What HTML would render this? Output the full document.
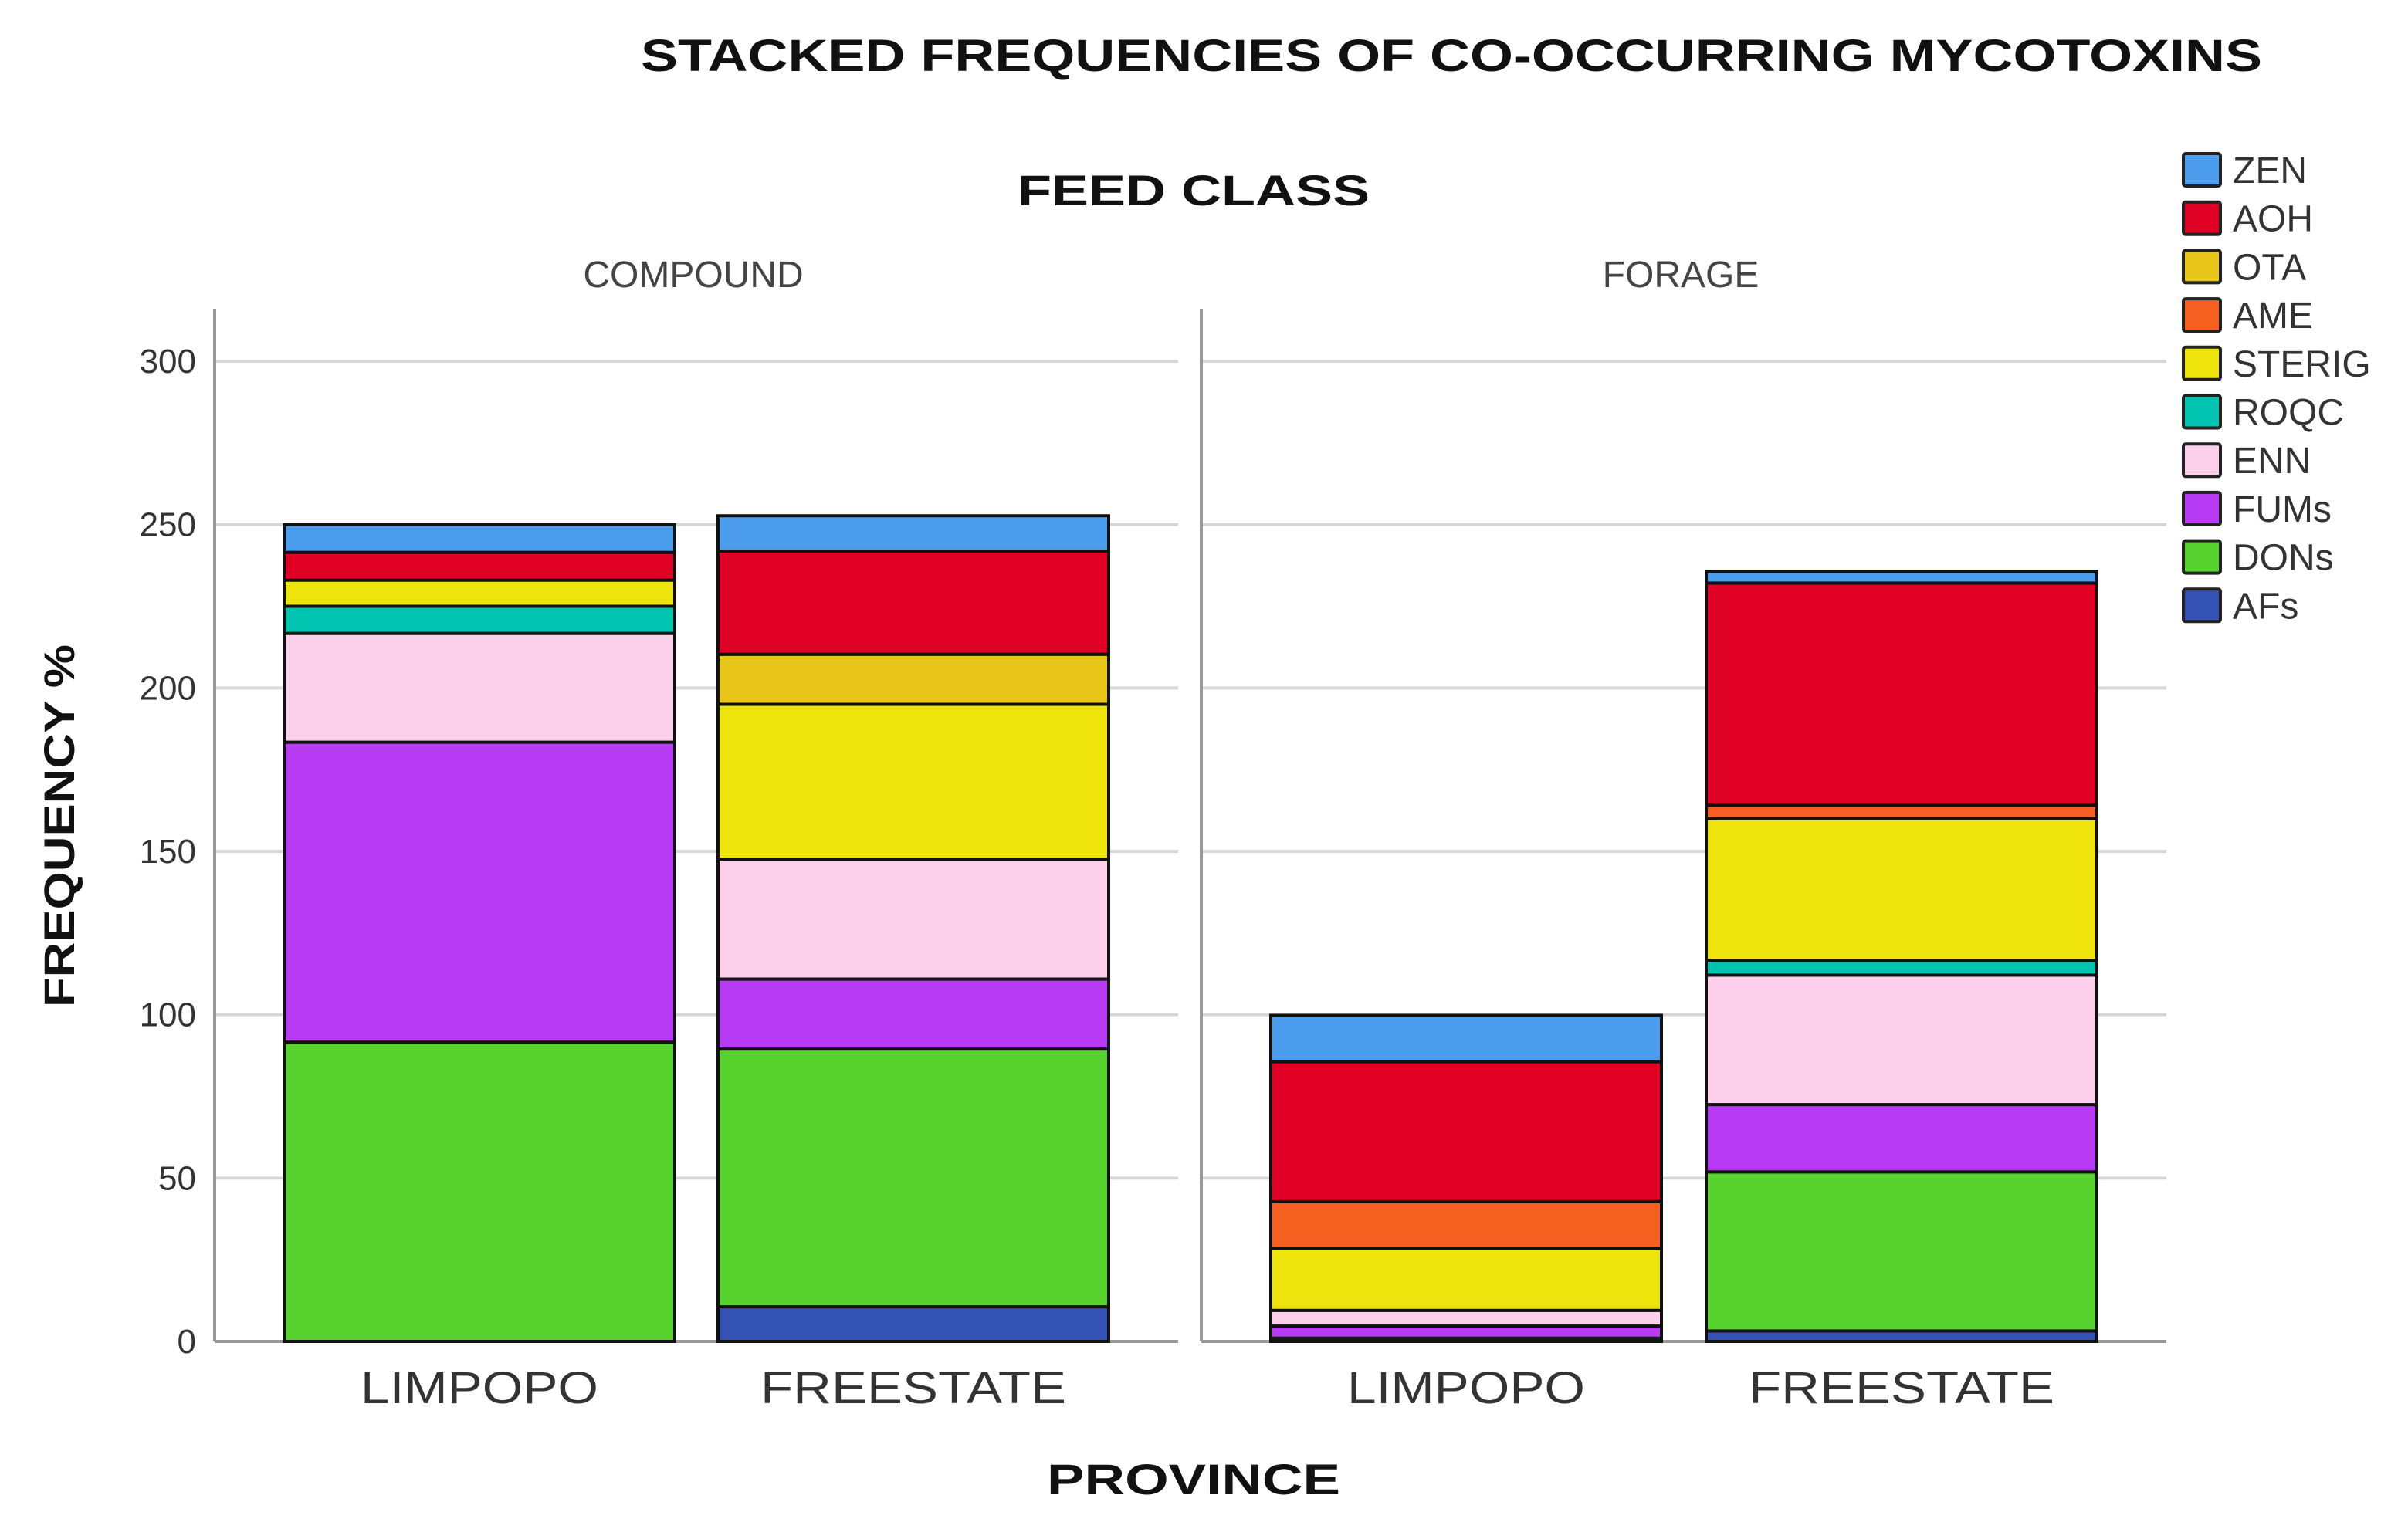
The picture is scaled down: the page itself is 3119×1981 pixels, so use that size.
<!DOCTYPE html>
<html><head><meta charset="utf-8"><style>
html,body{margin:0;padding:0;background:#fff;}
svg{display:block;font-family:"Liberation Sans",Arial,sans-serif;}
</style></head><body>
<svg id="chart" width="3119" height="1981" viewBox="0 0 3119 1981" xmlns="http://www.w3.org/2000/svg">
<rect width="3119" height="1981" fill="#fff"/>
<text x="1880" y="92" font-size="58" font-weight="bold" text-anchor="middle" textLength="2100" lengthAdjust="spacingAndGlyphs" fill="#111">STACKED FREQUENCIES OF CO-OCCURRING MYCOTOXINS</text>
<text x="1546" y="266" font-size="56" font-weight="bold" text-anchor="middle" textLength="456" lengthAdjust="spacingAndGlyphs" fill="#111">FEED CLASS</text>
<text x="1546" y="1936" font-size="56" font-weight="bold" text-anchor="middle" textLength="380" lengthAdjust="spacingAndGlyphs" fill="#111">PROVINCE</text>
<text transform="translate(96,1070) rotate(-90)" font-size="56" font-weight="bold" text-anchor="middle" textLength="470" lengthAdjust="spacingAndGlyphs" fill="#111">FREQUENCY %</text>
<g id="plot"></g>
<g id="legend"></g>
</svg>
<script>
const series = ["AFs","DONs","FUMs","ENN","ROQC","STERIG","AME","OTA","AOH","ZEN"];
const colors = ["#3452b4","#57d22e","#b73af5","#fcd0ea","#00c4b0","#ede40c","#f55f20","#e8c619","#e00024","#4c9ded"];
const panels = ["COMPOUND","FORAGE"];
const provinces = ["LIMPOPO","FREESTATE"];
const compoundLimpopo = [0,91.6,91.8,33.3,8.3,8,0,0,8.5,8.5];
const compoundFreestate = [10.6,78.9,21.4,36.7,0,47.4,0,15.3,31.6,10.8];
const forageLimpopo = [1,0,3.7,4.8,0,18.9,14.4,0,42.8,14.2];
const forageFreestate = [3.2,48.7,20.6,39.6,4.5,43.4,4.1,0,68,3.6];
const yTicks = [0,50,100,150,200,250,300];
const legendOrder = ["ZEN","AOH","OTA","AME","STERIG","ROQC","ENN","FUMs","DONs","AFs"];

const NS="http://www.w3.org/2000/svg";
const plot=document.getElementById('plot');
const Y0=1738, PXU=(1738-468)/300;
function y(v){return Y0-v*PXU;}
const panelX=[{axis:278,right:1526,bars:[[368,874],[930,1436]]},{axis:1556,right:2806,bars:[[1646,2152],[2210,2716]]}];
const data=[[compoundLimpopo,compoundFreestate],[forageLimpopo,forageFreestate]];
function mk(tag,attrs){const e=document.createElementNS(NS,tag);for(const k in attrs)e.setAttribute(k,attrs[k]);return e;}

panels.forEach((p,pi)=>{
  const P=panelX[pi];
  const g=mk('g',{});
  
  
  plot.appendChild(g);
  yTicks.forEach(t=>{
    if(t===0)return;
    const l=mk('line',{x1:P.axis,x2:P.right,y1:y(t),y2:y(t),stroke:'#d6d6d6','stroke-width':4});
    
    
    g.appendChild(l);
  });
  const ax=mk('line',{x1:P.axis,x2:P.axis,y1:400,y2:Y0,stroke:'#999','stroke-width':4});
  
  
  g.appendChild(ax);
  const bx=mk('line',{x1:P.axis,x2:P.right,y1:Y0,y2:Y0,stroke:'#999','stroke-width':4});
  
  
  g.appendChild(bx);
  const pt=mk('text',{x:(P.axis+P.right)/2-4,y:372,'font-size':48,'text-anchor':'middle',fill:'#444'});
  pt.textContent=p;
  
  
  g.appendChild(pt);
  provinces.forEach((pr,bi)=>{
    const [x1,x2]=P.bars[bi];
    let acc=0;
    data[pi][bi].forEach((v,si)=>{
      if(v<=0)return;
      const r=mk('rect',{x:x1,y:y(acc+v),width:x2-x1,height:v*PXU,fill:colors[si],stroke:'#111','stroke-width':4});
      
      
      g.appendChild(r);
      acc+=v;
    });
    const xl=mk('text',{x:(x1+x2)/2,y:1818,'font-size':58,'text-anchor':'middle',fill:'#333',textLength:pr.length*44,lengthAdjust:'spacingAndGlyphs'});
    xl.textContent=pr;
    
    
    g.appendChild(xl);
  });
});
yTicks.forEach(t=>{
  const tl=mk('text',{x:254,y:y(t)+15,'font-size':44,'text-anchor':'end',fill:'#333'});
  tl.textContent=t;
  
  
  plot.appendChild(tl);
});
const leg=document.getElementById('legend');
legendOrder.forEach((s,i)=>{
  const si=series.indexOf(s);
  const cy=220+i*62.7;
  const r=mk('rect',{x:2828,y:cy-21,width:48,height:42,fill:colors[si],stroke:'#222','stroke-width':4,rx:3});
  
  
  leg.appendChild(r);
  const t=mk('text',{x:2892,y:cy+17,'font-size':48,fill:'#333'});
  t.textContent=s;
  
  
  leg.appendChild(t);
});
</script>
</body></html>
